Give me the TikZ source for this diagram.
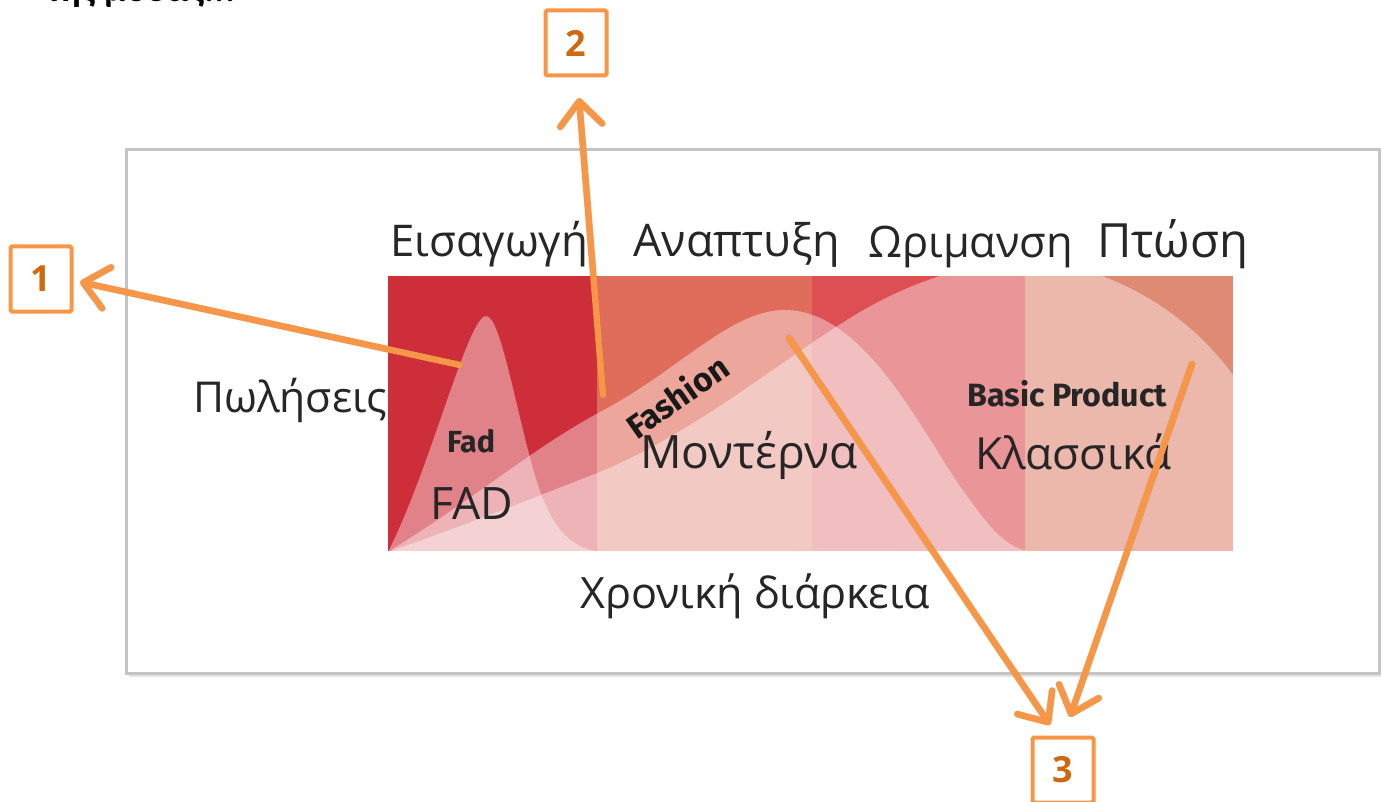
\documentclass[tikz,border=0pt]{standalone}
\usepackage{fontspec}
\setmainfont{Open Sans}
\newfontfamily\bsans{Fira Sans}
\newfontfamily\calib{Carlito}
\usetikzlibrary{arrows.meta}
\definecolor{orng}{HTML}{F79646}
\definecolor{numc}{HTML}{D0680F}
\definecolor{colA}{HTML}{CD2E3A}
\definecolor{colB}{HTML}{E06C5B}
\definecolor{colC}{HTML}{DD4F53}
\definecolor{colD}{HTML}{DF8A73}
\definecolor{frm}{HTML}{C4C4C4}
\newcommand{\fitw}[2]{\resizebox{#1}{!}{#2}}
\begin{document}
\begin{tikzpicture}[x=1pt,y=-1pt,
  lbl/.style={inner sep=0pt, anchor=base west, text=black!85},
  numbox/.style={draw=orng, line width=4pt, rounded corners=1.5pt, minimum width=61pt, minimum height=65pt, inner sep=0pt, font=\bfseries\fontsize{36}{36}\selectfont, text=numc},
  ptr/.style={draw=orng, line width=6.5pt, line cap=round, line join=round, -{Straight Barb[length=24pt,width=42pt,line cap=round,line join=round]}},
  ptrshadow/.style={draw=black, opacity=0.12, line width=7pt, line cap=round, line join=round, -{Straight Barb[length=24pt,width=42pt,line cap=round,line join=round]}},
  veil/.style={fill=white, fill opacity=0.4}
]
\useasboundingbox (0,0) rectangle (1381,802);
% cut-off heading
\node[inner sep=0pt, anchor=base west] (head) at (45,2) {\fitw{190pt}{\calib\bfseries της μόδας...}};
% frame
\fill[black!10] (129,153) rectangle (1383,677);
\draw[frm, line width=3pt, fill=white] (126,150) rectangle (1379,673);
% columns
\fill[colA] (388,276) rectangle (597,551);
\fill[colB] (597,276) rectangle (812,551);
\fill[colC] (812,276) rectangle (1025,551);
\fill[colD] (1025,276) rectangle (1233,551);
\begin{scope}
\clip (388,276) rectangle (1233,551);
% basic product curve
\fill[veil] (388,552) .. controls (480,520) and (540,495) .. (600,472)
  .. controls (700,430) and (780,360) .. (860,312)
  .. controls (915,280) and (980,258) .. (1040,262)
  .. controls (1110,268) and (1190,310) .. (1240,385) -- (1240,560) -- (388,560) -- cycle;
% fashion curve
\fill[veil] (388,552) .. controls (480,495) and (530,450) .. (600,412)
  .. controls (680,370) and (730,310) .. (785,310)
  .. controls (870,310) and (930,450) .. (970,500)
  .. controls (995,535) and (1010,550) .. (1035,552) -- (1035,560) -- (388,560) -- cycle;
% fad curve
\fill[veil] (388,552) .. controls (430,470) and (468,316) .. (486,316)
  .. controls (500,316) and (514,400) .. (532,465)
  .. controls (548,525) and (568,550) .. (605,552) -- (605,560) -- (388,560) -- cycle;
\end{scope}
% labels
\node[lbl] (intro) at (390,257) {\fitw{198pt}{Εισαγωγή}};
\node[lbl] (growth) at (633,257) {\fitw{207pt}{Αναπτυξη}};
\node[lbl] (mat) at (868,258) {\fitw{205pt}{Ωριμανση}};
\node[lbl] (decl) at (1097,258) {\fitw{151pt}{Πτώση}};
\node[lbl] (sales) at (193,412) {\fitw{194pt}{Πωλήσεις}};
\node[lbl] (fadb) at (447,452) {\fitw{48pt}{\bsans\bfseries Fad}};
\node[lbl] (fad) at (430,519) {\fitw{83pt}{FAD}};
\node[inner sep=0pt, rotate=35, text=black!90] (fash) at (677,396) {\fitw{116pt}{\bsans\bfseries Fashion}};
\node[lbl] (mod) at (640,468) {\fitw{217pt}{Μοντέρνα}};
\node[lbl] (basic) at (967,406) {\fitw{200pt}{\bsans\bfseries Basic Product}};
\node[lbl] (klas) at (975,469) {\fitw{196pt}{Κλασσικά}};
\node[lbl] (time) at (580,608) {\fitw{350pt}{Χρονική διάρκεια}};
% number boxes
\node[numbox] (b1) at (41,279) {1};
\node[numbox] (b2) at (576,43) {2};
\node[numbox] (b3) at (1063,770) {3};
% pointer start and end points
\coordinate (s1) at (460,365);
\coordinate (s2) at (603,395);
\coordinate (s3a) at (789,338);
\coordinate (s3b) at (1192,364);
\coordinate (t1) at (80,282);
\coordinate (t2) at (579,98);
\coordinate (t3a) at (1050,725);
\coordinate (t3b) at (1070,717);
% shadows
\begin{scope}[shift={(2,3)}]
\draw[ptrshadow] (s1) -- (t1);
\draw[ptrshadow] (s2) -- (t2);
\draw[ptrshadow] (s3a) -- (t3a);
\draw[ptrshadow] (s3b) -- (t3b);
\end{scope}
% pointers
\draw[ptr] (s1) -- (t1);
\draw[ptr] (s2) -- (t2);
\draw[ptr] (s3a) -- (t3a);
\draw[ptr] (s3b) -- (t3b);
\end{tikzpicture}
\end{document}
